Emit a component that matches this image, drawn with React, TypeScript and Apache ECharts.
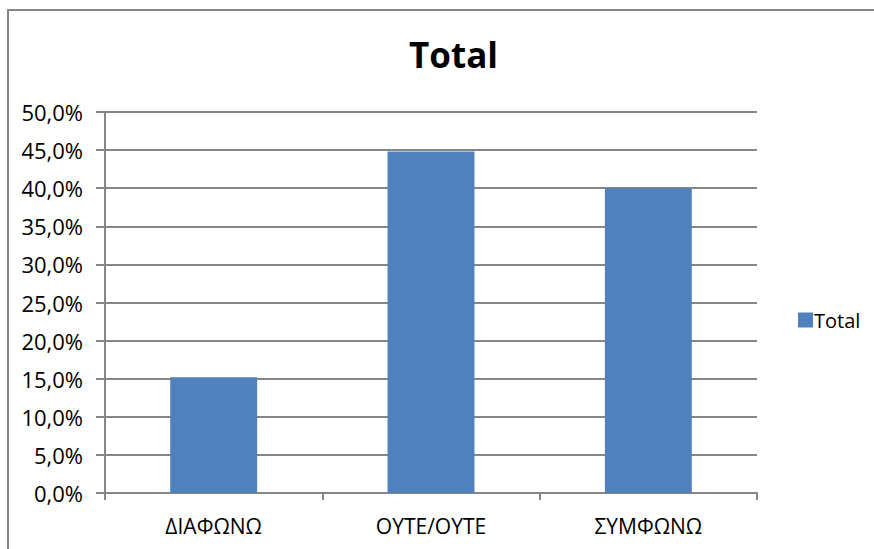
import React, { useEffect, useRef } from "react";
import * as echarts from "echarts";

const categories = ["ΔΙΑΦΩΝΩ", "ΟΥΤΕ/ΟΥΤΕ", "ΣΥΜΦΩΝΩ"];
const seriesName = "Total";
const values = [15.2, 44.8, 40.0];

export default function App() {
  const ref = useRef<HTMLDivElement>(null);
  useEffect(() => {
    const chart = echarts.init(ref.current!, null, { renderer: "svg" });
    const gray = "#868686";
    const font = "'Open Sans', 'Noto Sans', sans-serif";
    chart.setOption({
      animation: false,
      backgroundColor: "#ffffff",
      title: {
        text: "Total",
        left: 404,
        top: 32,
        textStyle: { fontSize: 35, fontWeight: "bold", fontFamily: font, color: "#000" },
      },
      graphic: [
        {
          type: "rect",
          shape: { x: 8, y: 10, width: 900, height: 600 },
          style: { fill: "none", stroke: gray, lineWidth: 2 },
          silent: true,
        },
      ],
      legend: {
        data: [seriesName],
        left: 793,
        top: 305,
        orient: "vertical",
        icon: "rect",
        itemWidth: 15,
        itemHeight: 15,
        itemGap: 5,
        textStyle: { fontSize: 20, fontFamily: font, color: "#000", padding: [0, 0, 0, -4] },
      },
      grid: { left: 105, top: 112, right: 117, bottom: 56, containLabel: false },
      xAxis: {
        type: "category",
        data: categories,
        boundaryGap: true,
        axisLine: { show: true, lineStyle: { color: gray, width: 2 } },
        axisTick: { show: true, length: 7, alignWithLabel: false, lineStyle: { color: gray, width: 2 } },
        axisLabel: { fontSize: 21, fontFamily: font, color: "#000", margin: 22 },
      },
      yAxis: {
        type: "value",
        min: 0,
        max: 50,
        interval: 5,
        axisLine: { show: true, lineStyle: { color: gray, width: 2 } },
        axisTick: { show: true, length: 9, lineStyle: { color: gray, width: 2 } },
        splitLine: { show: true, lineStyle: { color: gray, width: 2 } },
        axisLabel: {
          fontSize: 22,
          fontFamily: font,
          color: "#000",
          margin: 22,
          formatter: (v: number) => v.toFixed(1).replace(".", ",") + "%",
        },
      },
      series: [
        {
          name: seriesName,
          type: "bar",
          data: values,
          barWidth: "40%",
          itemStyle: { color: "#4F81BD" },
        },
      ],
    });
    return () => chart.dispose();
  }, []);
  return (
    <div
      ref={ref}
      style={{ position: "fixed", left: 0, top: 0, width: 874, height: 549, background: "#fff" }}
    />
  );
}
